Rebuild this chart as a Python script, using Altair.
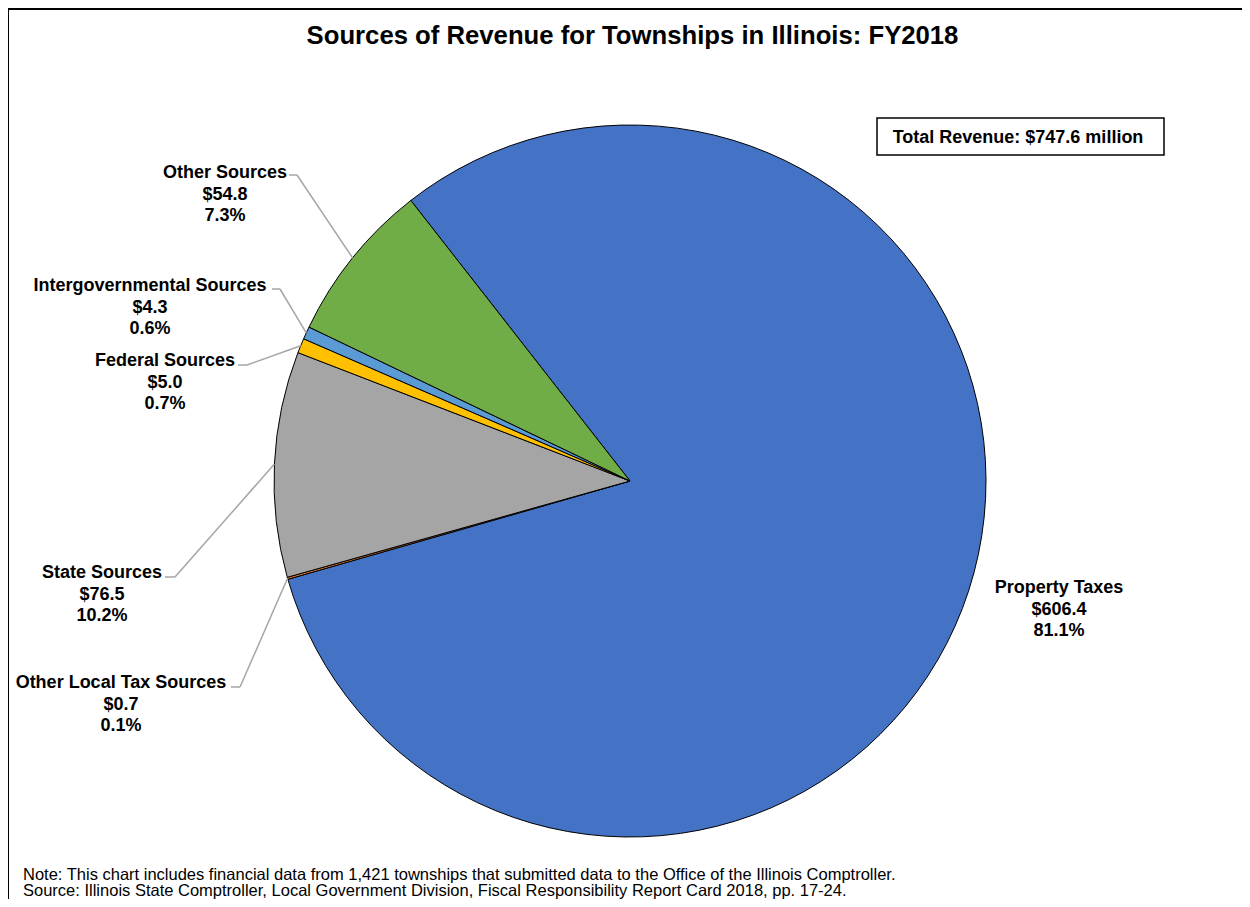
import math
import altair as alt
import pandas as pd

# ---- data ----
categories = ["Property Taxes", "Other Local Tax Sources", "State Sources",
              "Federal Sources", "Intergovernmental Sources", "Other Sources"]
values = [606.4, 0.7, 76.5, 5.0, 4.3, 54.8]
colors = ["#4472C4", "#ED7D31", "#A5A5A5", "#FFC000", "#5B9BD5", "#70AD47"]

title_text = "Sources of Revenue for Townships in Illinois: FY2018"
total_text = "Total Revenue:  $747.6 million"
note_lines = [
    "Note: This chart includes financial data from 1,421 townships that submitted data to the Office of the Illinois Comptroller.",
    "Source: Illinois State Comptroller, Local Government Division, Fiscal Responsibility Report Card 2018, pp. 17-24.",
]

# ---- layout (annotation placement, chart pixel coords) ----
W, H = 1234, 891
CX, CY, R = 622, 473, 356
A0 = math.radians(-38.0)
A1 = A0 + 2 * math.pi
label_x = [1051, 113, 94, 157, 142, 217]
label_y = [585, 680, 570, 358, 283, 170]
lead_end_x = [None, 223, 157, 230, 264, 281]
lead_elbow_x = [None, 232, 167, 239, 272, 289]
lead_y = [None, 679, 569, 357, 281, 167]

df = pd.DataFrame({
    "category": categories,
    "value": values,
    "order": list(range(len(categories))),
    "lx": label_x,
    "ly": label_y,
    "end_x": lead_end_x,
    "elbow_x": lead_elbow_x,
    "lead_y": lead_y,
})

base = alt.Chart(df).transform_window(
    cum="sum(value)", sort=[alt.SortField("order")]
).transform_joinaggregate(
    total="sum(value)"
).transform_calculate(
    mid=f"{A0} + (datum.cum - datum.value/2) / datum.total * {A1 - A0}",
).transform_calculate(
    ex=f"{CX} + {R} * sin(datum.mid)",
    ey=f"{CY} - {R} * cos(datum.mid)",
    label="datum.category + '\\n$' + format(datum.value, '.1f') + '\\n' + format(datum.value / datum.total, '.1%')",
)

pie = alt.Chart(df).mark_arc(outerRadius=R, stroke="black", strokeWidth=1).encode(
    theta=alt.Theta("value:Q", stack=True, scale=alt.Scale(range=[A0, A1])),
    color=alt.Color("category:N", scale=alt.Scale(domain=categories, range=colors), legend=None),
    order=alt.Order("order:Q"),
    x=alt.value(CX),
    y=alt.value(CY),
)

lead_color = "#A6A6A6"
leaders_diag = base.transform_filter("isValid(datum.end_x)").mark_rule(
    color=lead_color, strokeWidth=1.5
).encode(
    x=alt.X("ex:Q", scale=None),
    y=alt.Y("ey:Q", scale=None),
    x2="elbow_x:Q",
    y2="lead_y:Q",
)
leaders_h = base.transform_filter("isValid(datum.end_x)").mark_rule(
    color=lead_color, strokeWidth=1.5
).encode(
    x=alt.X("end_x:Q", scale=None),
    x2="elbow_x:Q",
    y=alt.Y("lead_y:Q", scale=None),
)

labels = base.mark_text(
    font="Liberation Sans", fontWeight="bold", fontSize=18, align="center",
    baseline="alphabetic", lineBreak="\n", lineHeight=21.5, color="black",
).encode(
    x=alt.X("lx:Q", scale=None),
    y=alt.Y("ly:Q", scale=None),
    text="label:N",
)

title = alt.Chart(pd.DataFrame({"t": [title_text]})).mark_text(
    font="Liberation Sans", fontWeight="bold", fontSize=25.7, align="center",
    baseline="alphabetic", color="black",
).encode(x=alt.value(624.5), y=alt.value(36), text="t:N")

box = alt.Chart(pd.DataFrame({"t": [total_text]})).mark_rect(
    fill="white", stroke="black", strokeWidth=1.5
).encode(x=alt.value(869), x2=alt.value(1156), y=alt.value(110), y2=alt.value(147))

box_text = alt.Chart(pd.DataFrame({"t": [total_text]})).mark_text(
    font="Liberation Sans", fontWeight="bold", fontSize=18, align="center",
    baseline="alphabetic", color="black",
).encode(x=alt.value(1010), y=alt.value(135), text="t:N")

notes = alt.Chart(pd.DataFrame({"t": note_lines, "y": [872, 888]})).mark_text(
    font="Liberation Sans", fontSize=16.5, align="left", baseline="alphabetic", color="black",
).encode(x=alt.value(15), y=alt.Y("y:Q", scale=None), text="t:N")

frame = alt.Chart(pd.DataFrame({"t": [0]})).mark_rect(
    fillOpacity=0, stroke="black", strokeWidth=2
).encode(x=alt.value(0), x2=alt.value(1400), y=alt.value(1), y2=alt.value(1100))

chart = alt.layer(
    frame, pie, leaders_diag, leaders_h, labels, title, box, box_text, notes
).properties(
    width=W, height=H, autosize=alt.AutoSizeParams(type="none"), padding=0,
).configure_view(stroke=None)

chart.save("out.html", embed_options={"renderer": "svg", "actions": False})
